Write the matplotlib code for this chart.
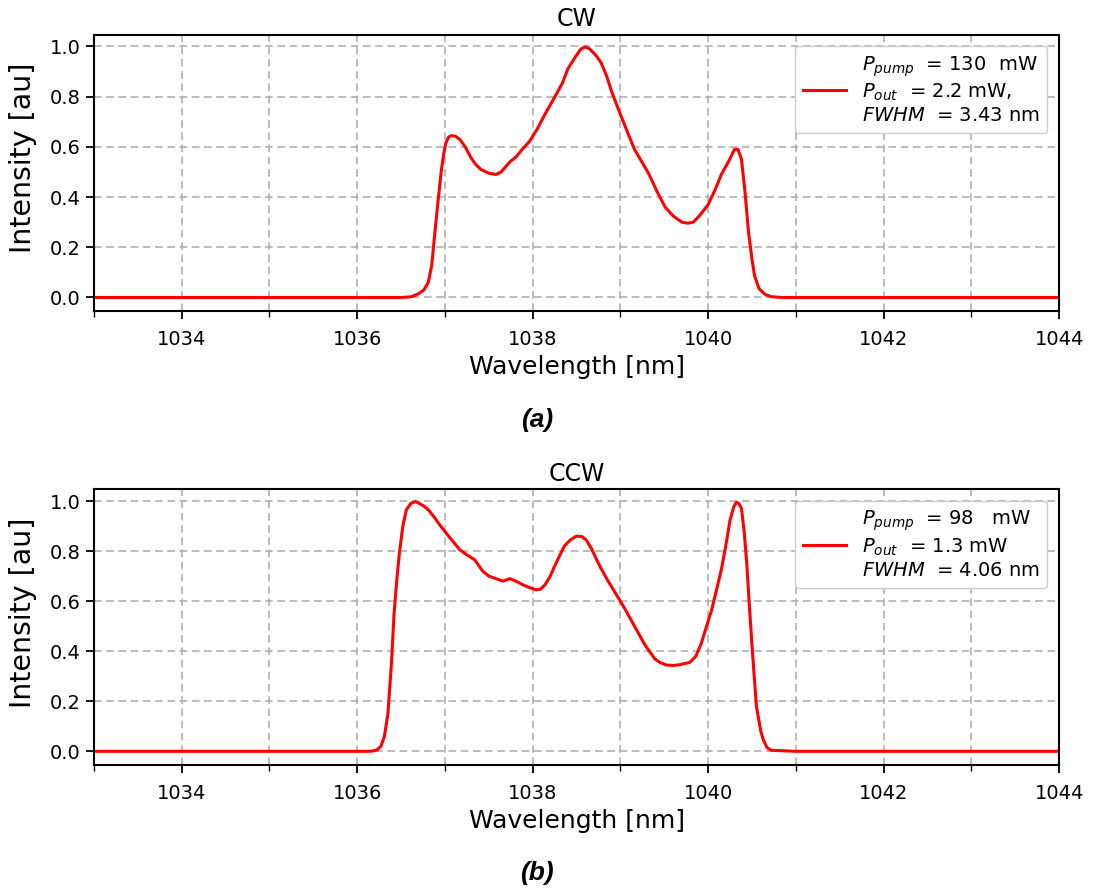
import matplotlib
matplotlib.use("Agg")
import matplotlib.pyplot as plt
import numpy as np
from matplotlib.ticker import MultipleLocator

# ---------------------------------------------------------------------------
# data
# ---------------------------------------------------------------------------
cw_wl = [1033.0, 1035.0, 1036.5, 1036.62, 1036.70, 1036.76, 1036.81, 1036.85,
         1036.88, 1036.92, 1036.96, 1036.99, 1037.01, 1037.04, 1037.07, 1037.12,
         1037.17, 1037.23, 1037.30, 1037.35, 1037.41, 1037.50, 1037.58, 1037.64,
         1037.69, 1037.74, 1037.81, 1037.88, 1037.96, 1038.05, 1038.14, 1038.27,
         1038.34, 1038.40, 1038.48, 1038.55, 1038.60, 1038.65, 1038.72, 1038.78,
         1038.84, 1038.90, 1039.01, 1039.16, 1039.32, 1039.42, 1039.51, 1039.60,
         1039.70, 1039.77, 1039.83, 1039.90, 1040.00, 1040.08, 1040.15, 1040.23,
         1040.30, 1040.34, 1040.38, 1040.42, 1040.46, 1040.50, 1040.53, 1040.58,
         1040.65, 1040.72, 1040.85, 1042.0, 1044.0]
cw_int = [0.0, 0.0, 0.0, 0.003, 0.015, 0.03, 0.06, 0.13,
          0.24, 0.38, 0.51, 0.58, 0.615, 0.638, 0.645, 0.642,
          0.63, 0.60, 0.555, 0.53, 0.51, 0.495, 0.49, 0.50,
          0.52, 0.54, 0.56, 0.59, 0.62, 0.67, 0.73, 0.81,
          0.855, 0.91, 0.955, 0.99, 0.998, 0.99, 0.965, 0.935,
          0.885, 0.82, 0.72, 0.59, 0.495, 0.42, 0.36, 0.325,
          0.30, 0.296, 0.30, 0.325, 0.37, 0.43, 0.49, 0.54,
          0.59, 0.59, 0.55, 0.42, 0.26, 0.15, 0.085, 0.035,
          0.012, 0.003, 0.0, 0.0, 0.0]

ccw_wl = [1033.0, 1035.0, 1036.15, 1036.22, 1036.27, 1036.31, 1036.35, 1036.39,
          1036.42, 1036.45, 1036.48, 1036.52, 1036.56, 1036.61, 1036.66, 1036.71,
          1036.76, 1036.81, 1036.88, 1036.94, 1037.03, 1037.10, 1037.17, 1037.25,
          1037.34, 1037.43, 1037.50, 1037.58, 1037.66, 1037.74, 1037.81, 1037.89,
          1037.96, 1038.04, 1038.09, 1038.14, 1038.20, 1038.25, 1038.36, 1038.43,
          1038.50, 1038.56, 1038.61, 1038.67, 1038.73, 1038.78, 1038.86, 1038.93,
          1039.05, 1039.16, 1039.28, 1039.39, 1039.45, 1039.52, 1039.60, 1039.66,
          1039.79, 1039.86, 1039.92, 1040.04, 1040.15, 1040.20, 1040.25, 1040.29,
          1040.32, 1040.35, 1040.38, 1040.41, 1040.44, 1040.47, 1040.50, 1040.55,
          1040.60, 1040.63, 1040.67, 1040.72, 1041.0, 1042.0, 1044.0]
ccw_int = [0.0, 0.0, 0.0, 0.004, 0.02, 0.06, 0.15, 0.35,
           0.55, 0.68, 0.79, 0.90, 0.965, 0.99, 0.998, 0.99,
           0.98, 0.965, 0.935, 0.905, 0.865, 0.835, 0.805, 0.785,
           0.765, 0.72, 0.70, 0.69, 0.68, 0.69, 0.68, 0.665,
           0.655, 0.645, 0.648, 0.665, 0.70, 0.74, 0.82, 0.845,
           0.86, 0.858, 0.845, 0.81, 0.765, 0.73, 0.68, 0.64,
           0.57, 0.50, 0.425, 0.37, 0.355, 0.345, 0.343, 0.345,
           0.355, 0.38, 0.43, 0.565, 0.725, 0.82, 0.925, 0.975,
           0.995, 0.99, 0.97, 0.88, 0.75, 0.58, 0.42, 0.18,
           0.08, 0.045, 0.015, 0.004, 0.0, 0.0, 0.0]

cw_label = "$P_{pump}$  = 130  mW\n$P_{out}$  = 2.2 mW,\n$FWHM$  = 3.43 nm"
ccw_label = "$P_{pump}$  = 98   mW\n$P_{out}$  = 1.3 mW\n$FWHM$  = 4.06 nm"

panels = [("CW", cw_wl, cw_int, cw_label, "(a)"),
          ("CCW", ccw_wl, ccw_int, ccw_label, "(b)")]

# ---------------------------------------------------------------------------
# figure
# ---------------------------------------------------------------------------
fig = plt.figure(figsize=(10.93, 8.88), dpi=100)
boxes = [[0.086, 0.650, 0.883, 0.311], [0.086, 0.139, 0.883, 0.310]]
letter_y = [1 - 420 / 888, 1 - 873 / 888]

for (title, wl, inten, lab, letter), box, ly in zip(panels, boxes, letter_y):
    ax = fig.add_axes(box)
    ax.plot(wl, inten, color="red", lw=2.2, label=lab)
    ax.set_xlim(1033, 1044)
    ax.set_ylim(-0.053, 1.047)
    ax.xaxis.set_major_locator(MultipleLocator(2))
    ax.xaxis.set_minor_locator(MultipleLocator(1))
    ax.yaxis.set_major_locator(MultipleLocator(0.2))
    ax.grid(True, which="both", axis="x", ls=(0, (5, 3)), color="#aaaaaa", lw=1.1)
    ax.grid(True, which="major", axis="y", ls=(0, (5, 3)), color="#aaaaaa", lw=1.1)
    ax.tick_params(axis="both", which="major", labelsize=14, length=6, width=1.3)
    ax.tick_params(axis="x", which="major", pad=8)
    ax.tick_params(axis="x", which="minor", length=4, width=1.0)
    for s in ax.spines.values():
        s.set_linewidth(1.5)
    ax.set_title(title, fontsize=17, pad=6)
    ax.set_xlabel("Wavelength [nm]", fontsize=18, labelpad=4)
    ax.set_ylabel("Intensity [au]", fontsize=20.5)
    ax.yaxis.set_label_coords(-0.059, 0.553)
    ax.legend(loc="upper right", fontsize=14, handlelength=2.2,
              borderaxespad=0.6, framealpha=1.0)
    fig.text(537 / 1093, ly, letter, ha="center", va="center", fontsize=19,
             fontweight="bold", fontstyle="italic", family="Liberation Sans")

fig.savefig("out.png", dpi=100)
